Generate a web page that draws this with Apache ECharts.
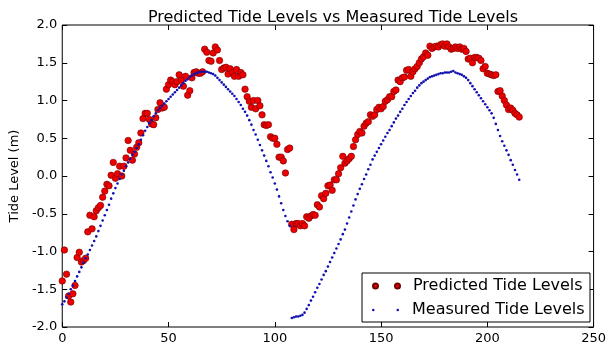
<!DOCTYPE html>
<html>
<head>
<meta charset="utf-8">
<script src="https://cdn.jsdelivr.net/npm/echarts@6/dist/echarts.min.js"></script>
<style>
html, body { margin: 0; padding: 0; background: #fff; }
#chart { width: 609px; height: 345px; }
</style>
</head>
<body>
<div id="chart"></div>
<script>
// tide levels, one value per time step (index = x)
var predicted = [
	-1.39,-0.98,-1.30,-1.59,-1.67,-1.56,-1.45,-1.08,-1.01,-1.14,
	-1.12,-1.09,-0.74,-0.52,-0.70,-0.54,-0.46,-0.42,-0.39,-0.28,
	-0.20,-0.11,-0.13,0.01,0.18,-0.03,0.03,0.13,0.00,0.13,
	0.24,0.47,0.34,0.21,0.29,0.38,0.44,0.57,0.76,0.83,
	0.83,0.75,0.69,0.68,0.77,0.88,0.97,0.90,0.91,1.15,
	1.21,1.27,1.25,1.21,1.25,1.34,1.27,1.19,1.32,1.07,
	1.13,1.30,1.37,1.38,1.36,1.36,1.38,1.68,1.64,1.53,
	1.52,1.63,1.71,1.67,1.53,1.41,1.43,1.44,1.35,1.42,
	1.37,1.32,1.41,1.32,1.37,1.34,1.15,1.05,0.99,0.91,
	1.00,0.89,1.00,0.93,0.81,0.68,0.67,0.68,0.52,0.50,
	0.50,0.42,0.25,0.25,0.20,0.04,0.35,0.37,
	-0.64,-0.71,-0.63,-0.63,-0.66,-0.63,-0.66,-0.54,-0.56,-0.53,
	-0.51,-0.52,-0.38,-0.41,-0.26,-0.30,-0.23,-0.13,-0.12,-0.19,
	-0.05,-0.05,0.03,0.11,0.26,0.17,0.20,0.23,0.26,0.39,
	0.48,0.55,0.59,0.57,0.66,0.70,0.72,0.81,0.79,0.81,
	0.88,0.91,0.89,0.92,0.99,1.01,1.05,1.05,1.12,1.14,
	1.27,1.25,1.30,1.31,1.40,1.41,1.32,1.38,1.42,1.45,
	1.50,1.55,1.58,1.63,1.60,1.72,1.69,1.71,1.72,1.71,
	1.74,1.75,1.72,1.75,1.71,1.68,1.69,1.71,1.69,1.71,
	1.68,1.69,1.65,1.55,1.56,1.50,1.57,1.57,1.56,1.53,
	1.42,1.45,1.36,1.35,1.34,1.33,1.34,1.12,1.13,1.06,
	1.00,0.94,0.88,0.90,0.87,0.83,0.81,0.78
];
var measured = [
	-1.70,-1.66,-1.61,-1.56,-1.50,-1.45,-1.39,-1.33,-1.27,-1.21,
	-1.15,-1.09,-1.04,-0.98,-0.92,-0.86,-0.80,-0.73,-0.66,-0.59,
	-0.52,-0.45,-0.38,-0.30,-0.23,-0.16,-0.10,-0.04,0.02,0.07,
	0.13,0.18,0.23,0.28,0.32,0.37,0.42,0.48,0.54,0.60,
	0.65,0.70,0.74,0.79,0.83,0.87,0.90,0.93,0.96,0.99,
	1.02,1.05,1.08,1.11,1.14,1.17,1.20,1.23,1.26,1.28,
	1.31,1.33,1.35,1.36,1.37,1.38,1.38,1.38,1.38,1.37,
	1.36,1.35,1.33,1.30,1.27,1.24,1.21,1.18,1.15,1.12,
	1.09,1.06,1.02,0.98,0.94,0.89,0.85,0.80,0.74,0.68,
	0.61,0.55,0.48,0.41,0.34,0.27,0.20,0.13,0.05,-0.02,
	-0.10,-0.18,-0.27,-0.36,-0.45,-0.53,-0.60,-0.66,
	-1.88,-1.87,-1.86,-1.86,-1.85,-1.84,-1.81,-1.76,-1.71,-1.65,
	-1.60,-1.54,-1.48,-1.43,-1.37,-1.31,-1.26,-1.20,-1.14,-1.08,
	-1.02,-0.96,-0.90,-0.84,-0.77,
	-0.71,-0.63,-0.55,-0.47,-0.39,-0.31,-0.24,-0.17,-0.11,-0.04,
	0.02,0.09,0.15,0.22,0.27,0.32,0.37,0.42,0.47,0.52,
	0.57,0.61,0.66,0.71,0.76,0.80,0.85,0.89,0.94,0.98,
	1.02,1.06,1.10,1.13,1.17,1.20,1.23,1.25,1.27,1.29,
	1.31,1.32,1.33,1.34,1.35,1.36,1.36,1.37,1.37,1.37,
	1.38,1.39,1.37,1.36,1.35,1.34,1.32,1.30,1.27,1.23,
	1.19,1.15,1.11,1.07,1.03,0.99,0.95,0.91,0.87,0.83,
	0.77,0.69,0.61,0.53,0.46,0.40,0.34,0.28,0.21,0.15,0.08,0.02,-0.05
];
var seriesNames = ['Predicted Tide Levels', 'Measured Tide Levels'];
var xTicks = [0, 50, 100, 150, 200, 250];
var yTicks = [-2.0, -1.5, -1.0, -0.5, 0.0, 0.5, 1.0, 1.5, 2.0];

var font = 'DejaVu Sans';

function toPoints(arr) {
	return arr.map(function (v, i) { return [i, v]; });
}

function tickAxis(pos, show, ticks) {
	return {
		type: 'value',
		position: pos,
		min: ticks[0],
		max: ticks[ticks.length - 1],
		interval: ticks[1] - ticks[0],
		axisLine: { show: false, onZero: false },
		axisTick: { show: true, inside: true, length: 5, lineStyle: { color: '#000' } },
		splitLine: { show: false },
		axisLabel: {
			show: show,
			color: '#000',
			fontFamily: font,
			fontSize: 13,
			margin: 5,
			showMinLabel: true,
			showMaxLabel: true,
			formatter: function (v) {
				return (pos === 'left' || pos === 'right') ? v.toFixed(1) : String(v);
			}
		}
	};
}

var myChart = echarts.init(document.getElementById('chart'));

var yLeft = tickAxis('left', true, yTicks);
yLeft.name = 'Tide Level (m)';
yLeft.nameLocation = 'middle';
yLeft.nameRotate = 90;
yLeft.nameGap = 31;
yLeft.nameTextStyle = { color: '#000', fontFamily: font, fontSize: 13 };

var option = {
	backgroundColor: '#fff',
	animation: false,
	title: {
		text: 'Predicted Tide Levels vs Measured Tide Levels',
		left: 328,
		textAlign: 'center',
		top: 5,
		textStyle: { color: '#000', fontFamily: font, fontSize: 16, fontWeight: 'normal' }
	},
	grid: {
		left: 58, right: 11, top: 25, bottom: 17,
		show: true, borderColor: '#000', borderWidth: 1, backgroundColor: '#fff'
	},
	xAxis: [tickAxis('bottom', true, xTicks), tickAxis('top', false, xTicks)],
	yAxis: [yLeft, tickAxis('right', false, yTicks)],
	legend: [{
		data: [seriesNames[0]],
		left: 367, top: 273, z: 10,
		itemWidth: 27, itemHeight: 5, itemGap: 10,
		icon: 'path://M0,2.5a2.5,2.5 0 1,0 5,0a2.5,2.5 0 1,0 -5,0M22,2.5a2.5,2.5 0 1,0 5,0a2.5,2.5 0 1,0 -5,0',
		textStyle: { color: '#000', fontFamily: font, fontSize: 16, padding: [0, 0, 0, 8] }
	}, {
		data: [seriesNames[1]],
		left: 367, top: 297, z: 10,
		itemWidth: 27, itemHeight: 2.5, itemGap: 10,
		icon: 'path://M0,1.25a1.25,1.25 0 1,0 2.5,0a1.25,1.25 0 1,0 -2.5,0M24.5,1.25a1.25,1.25 0 1,0 2.5,0a1.25,1.25 0 1,0 -2.5,0',
		textStyle: { color: '#000', fontFamily: font, fontSize: 16, padding: [0, 0, 0, 8] }
	}],
	graphic: [{
		type: 'rect',
		z: 3,
		shape: { x: 362, y: 273, width: 228, height: 49 },
		style: { fill: '#fff', stroke: '#000', lineWidth: 1 }
	}],
	series: [{
		name: seriesNames[0],
		type: 'scatter',
		symbolSize: 6.5,
		itemStyle: { color: '#ee0000', borderColor: '#700000', borderWidth: 0.6, opacity: 1 },
		data: toPoints(predicted)
	}, {
		name: seriesNames[1],
		type: 'scatter',
		symbolSize: 2.6,
		itemStyle: { color: '#1010b0', borderWidth: 0, opacity: 1 },
		data: toPoints(measured)
	}]
};

myChart.setOption(option);
</script>
</body>
</html>
